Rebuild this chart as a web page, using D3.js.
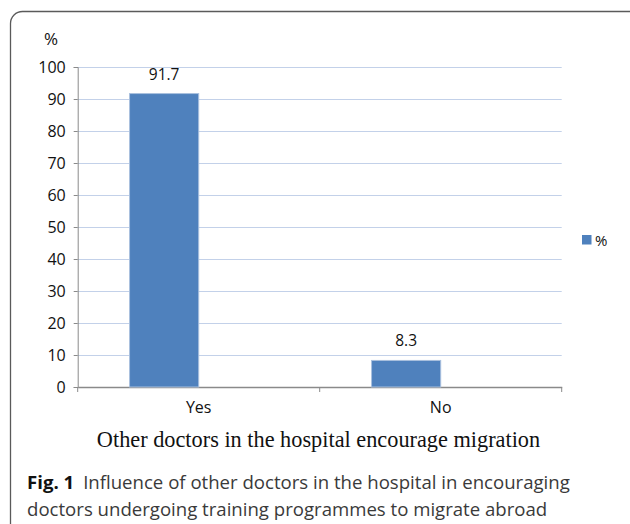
<!DOCTYPE html>
<html>
<head>
<meta charset="utf-8">
<script src="https://cdn.jsdelivr.net/npm/d3@7"></script>
<style>
  body { margin: 0; background: #fff; }
  svg { display: block; }
</style>
</head>
<body>
<svg id="svg" width="630" height="524"></svg>
<script>
const width = 630;
const height = 524;

// data
const categories = ["Yes", "No"];
const seriesNames = ["%", ""]; // excel chart had a second, empty series
const values = [91.7, 8.3];
const yTicks = [0, 10, 20, 30, 40, 50, 60, 70, 80, 90, 100];
const chartTitle = "Other doctors in the hospital encourage migration";
const captionBold = "Fig. 1";
const captionLines = [
  "Influence of other doctors in the hospital in encouraging",
  "doctors undergoing training programmes to migrate abroad",
];

const plot = { left: 77.7, right: 561.7, top: 67, bottom: 387 };
const labelFont = "'Open Sans', sans-serif";

let svg = d3.select("#svg");

// rounded frame, runs off the right and bottom edges
svg
  .append("rect")
  .attr("x", 10.5)
  .attr("y", 11.5)
  .attr("width", 640)
  .attr("height", 540)
  .attr("rx", 12)
  .attr("fill", "none")
  .attr("stroke", "#5a5a5a")
  .attr("stroke-width", 1.3);

const x = d3
  .scaleBand()
  .domain(categories)
  .range([plot.left, plot.right])
  .paddingInner(0)
  .paddingOuter(0);

// gap width 150% between clusters of 2 series
const barW = x.bandwidth() / (seriesNames.length + 1.5);

const y = d3.scaleLinear().domain([0, 100]).range([plot.bottom, plot.top]);

// gridlines
svg
  .append("g")
  .selectAll("line")
  .data(yTicks.filter((d) => d > 0))
  .enter()
  .append("line")
  .attr("x1", plot.left)
  .attr("x2", plot.right)
  .attr("y1", (d) => Math.round(y(d)) + 0.5)
  .attr("y2", (d) => Math.round(y(d)) + 0.5)
  .attr("stroke", "#c3d1e9")
  .attr("stroke-width", 1.2);

// y axis
let yAxis = svg
  .append("g")
  .attr("transform", `translate(${plot.left},0)`)
  .call(d3.axisLeft(y).tickValues(yTicks).tickSize(4).tickPadding(8));
yAxis.select(".domain").attr("stroke", "#8a8a8a");
yAxis.selectAll(".tick line").attr("stroke", "#8a8a8a");
yAxis
  .selectAll(".tick text")
  .attr("font-family", labelFont)
  .attr("font-size", 16)
  .attr("fill", "#111");

// x axis
let xAxis = svg
  .append("g")
  .attr("transform", `translate(0,${plot.bottom})`)
  .call(d3.axisBottom(x).tickSize(0).tickPadding(15));
xAxis.select(".domain").attr("stroke", "#8a8a8a").attr("stroke-width", 1.3);
xAxis
  .selectAll(".tick text")
  .attr("font-family", labelFont)
  .attr("font-size", 16)
  .attr("fill", "#111");
// category boundary ticks
svg
  .append("g")
  .selectAll("line")
  .data([...categories.map((c) => x(c)), plot.right])
  .enter()
  .append("line")
  .attr("x1", (d) => d)
  .attr("x2", (d) => d)
  .attr("y1", plot.bottom)
  .attr("y2", plot.bottom + 5)
  .attr("stroke", "#8a8a8a");

// bars (first series only has values)
svg
  .append("g")
  .selectAll("rect")
  .data(values)
  .enter()
  .append("rect")
  .attr("x", (d, i) => x(categories[i]) + 0.75 * barW)
  .attr("y", (d) => y(d))
  .attr("width", barW)
  .attr("height", (d) => y(0) - y(d))
  .attr("fill", "#4f81bd")
  .attr("stroke", "#a9c0de")
  .attr("stroke-width", 1);

// value labels
svg
  .append("g")
  .selectAll("text")
  .data(values)
  .enter()
  .append("text")
  .attr("x", (d, i) => x(categories[i]) + 1.25 * barW)
  .attr("y", (d) => y(d) - 14)
  .attr("text-anchor", "middle")
  .attr("font-family", labelFont)
  .attr("font-size", 15.5)
  .attr("fill", "#111")
  .text((d) => d);

// y axis title
svg
  .append("text")
  .attr("x", 44)
  .attr("y", 45)
  .attr("font-family", labelFont)
  .attr("font-size", 17)
  .attr("fill", "#111")
  .text("%");

// legend
svg
  .append("rect")
  .attr("x", 582)
  .attr("y", 235)
  .attr("width", 9.5)
  .attr("height", 9.5)
  .attr("fill", "#4f81bd");
svg
  .append("text")
  .attr("x", 595)
  .attr("y", 245.5)
  .attr("font-family", labelFont)
  .attr("font-size", 15)
  .attr("fill", "#111")
  .text(seriesNames[0]);

// chart title (serif, below the axis)
svg
  .append("text")
  .attr("x", 318.5)
  .attr("y", 447)
  .attr("text-anchor", "middle")
  .attr("font-family", "'Liberation Serif', serif")
  .attr("font-size", 22.3)
  .attr("fill", "#111")
  .text(chartTitle);

// figure caption
let cap = svg
  .append("text")
  .attr("font-family", labelFont)
  .attr("font-size", 18.6)
  .attr("fill", "#3a3a3a");
cap
  .append("tspan")
  .attr("x", 27)
  .attr("y", 489)
  .attr("font-weight", "bold")
  .attr("fill", "#111")
  .text(captionBold);
cap.append("tspan").attr("dx", 9).text(captionLines[0]);
cap.append("tspan").attr("x", 27).attr("y", 516).text(captionLines[1]);
</script>
</body>
</html>
